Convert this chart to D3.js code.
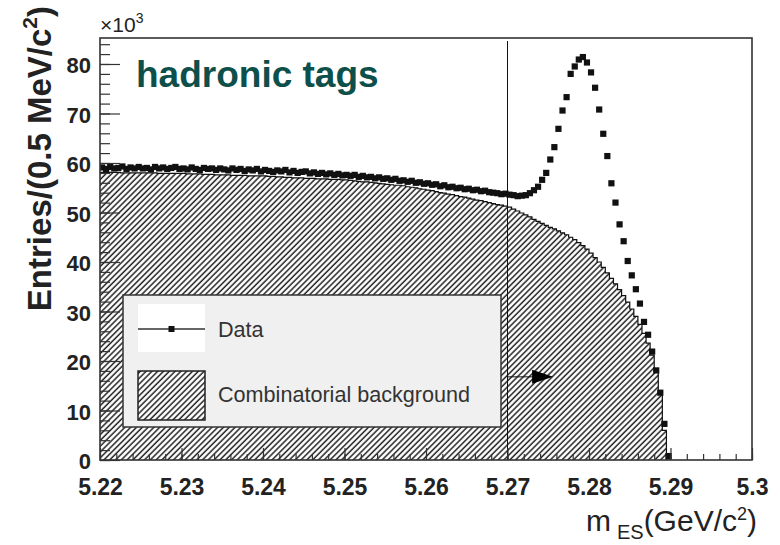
<!DOCTYPE html>
<html>
<head>
<meta charset="utf-8">
<script src="https://cdn.jsdelivr.net/npm/d3@7/dist/d3.min.js"></script>
<style>
  html, body { margin: 0; padding: 0; background: #ffffff; }
  svg { display: block; font-family: "Liberation Sans", Arial, Helvetica, sans-serif; }
</style>
</head>
<body>
<svg id="chart" width="780" height="545"></svg>
<script>
// Histogram binning of m_ES (GeV/c^2): 0.5 MeV bins starting at 5.22
const binStart = 5.22;
const binWidth = 0.0005;

// Data: entries per bin, in units of 10^3
const dataCounts = [
  59.1, 58.8, 59.2, 58.9, 59.0, 59.3, 58.8, 59.1, 58.9, 59.2,
  58.9, 59.0, 58.7, 59.2, 58.9, 59.1, 58.8, 59.0, 59.2, 58.8,
  58.9, 58.7, 59.1, 58.8, 58.6, 59.0, 58.8, 58.9, 58.6, 58.9,
  58.7, 58.5, 58.9, 58.6, 58.8, 58.4, 58.7, 58.5, 58.8, 58.3,
  58.6, 58.4, 58.2, 58.5, 58.3, 58.6, 58.1, 58.4, 58.0, 58.2,
  58.3, 57.9, 58.1, 57.8, 58.0, 57.7, 57.9, 57.6, 57.8, 57.5,
  57.6, 57.4, 57.6, 57.2, 57.4, 57.1, 57.2, 56.9, 57.1, 56.8,
  56.9, 56.6, 56.8, 56.4, 56.5, 56.2, 56.4, 56.0, 56.1, 55.8,
  55.9, 55.6, 55.7, 55.3, 55.5, 55.1, 55.2, 54.9, 55.0, 54.7,
  54.8, 54.5, 54.6, 54.3, 54.4, 54.1, 54.0, 53.9, 53.7, 53.8,
  53.6, 53.5, 53.3, 53.4, 53.5, 53.9, 54.5, 55.2, 56.6, 58.0,
  60.7, 63.2, 66.9, 70.6, 73.3, 78.0, 79.5, 80.9, 81.4, 80.3,
  78.3, 75.2, 70.8, 65.9, 61.4, 55.9, 52.0, 47.6, 44.2, 40.2,
  37.3, 34.5, 31.6, 27.9, 25.3, 21.9, 18.1, 13.6, 7.3, 0.8
];

// Combinatorial background: entries per bin, in units of 10^3
const bkgCounts = [
  58.1, 58.1, 58.1, 58.1, 58.1, 58.0, 58.0, 58.0, 58.0, 58.0,
  58.0, 58.0, 58.0, 58.0, 57.9, 57.9, 57.9, 57.9, 57.9, 57.9,
  57.9, 57.8, 57.8, 57.8, 57.8, 57.7, 57.7, 57.7, 57.6, 57.6,
  57.6, 57.6, 57.5, 57.5, 57.5, 57.5, 57.4, 57.4, 57.4, 57.4,
  57.4, 57.3, 57.3, 57.2, 57.2, 57.1, 57.1, 57.0, 57.0, 57.0,
  56.9, 56.9, 56.9, 56.8, 56.8, 56.8, 56.7, 56.7, 56.7, 56.6,
  56.6, 56.5, 56.4, 56.3, 56.2, 56.2, 56.1, 56.0, 55.9, 55.8,
  55.7, 55.6, 55.5, 55.5, 55.4, 55.2, 55.1, 55.0, 54.8, 54.7,
  54.5, 54.4, 54.2, 54.0, 53.9, 53.7, 53.6, 53.4, 53.2, 53.1,
  52.9, 52.7, 52.5, 52.4, 52.2, 52.0, 51.8, 51.6, 51.5, 51.3,
  51.1, 50.7, 50.3, 49.9, 49.5, 49.1, 48.6, 48.2, 47.8, 47.4,
  47.0, 46.7, 46.3, 45.9, 45.5, 45.0, 44.5, 43.9, 43.3, 42.6,
  41.8, 40.9, 40.0, 38.9, 37.8, 36.7, 35.6, 34.4, 33.2, 31.9,
  30.5, 29.0, 27.4, 25.6, 23.6, 21.2, 18.0, 13.6, 6.0, 0.0
];

// Axis ticks
const xTickValues = [5.22, 5.23, 5.24, 5.25, 5.26, 5.27, 5.28, 5.29, 5.30];
const xTickLabels = ["5.22", "5.23", "5.24", "5.25", "5.26", "5.27", "5.28", "5.29", "5.3"];
const yTickValues = [0, 10, 20, 30, 40, 50, 60, 70, 80];
const yTickLabels = ["0", "10", "20", "30", "40", "50", "60", "70", "80"];

// Signal-region cut and its arrow
const cutMass = 5.27;
const arrowLevel = 16.8;
const arrowTipMass = 5.2756;

// Legend entries
const legendLabels = ["Data", "Combinatorial background"];

// ---------------------------------------------------------------
const svg = d3.select("#chart");
const frame = { left: 100, right: 752, top: 38, bottom: 460 };
const ink = "#222";

const x = d3.scaleLinear().domain([5.22, 5.30]).range([frame.left, frame.right]);
const y = d3.scaleLinear().domain([0, 85.25]).range([frame.bottom, frame.top]);

const defs = svg.append("defs");
const hatchStep = 4.1;
const hatch = defs.append("pattern")
  .attr("id", "hatch")
  .attr("patternUnits", "userSpaceOnUse")
  .attr("width", hatchStep).attr("height", hatchStep)
  .attr("patternTransform", "rotate(45)");
hatch.append("rect").attr("width", hatchStep).attr("height", hatchStep).attr("fill", "#fff");
hatch.append("line")
  .attr("x1", 1).attr("y1", 0).attr("x2", 1).attr("y2", hatchStep)
  .attr("stroke", "#222").attr("stroke-width", 1.5);

defs.append("clipPath").attr("id", "plotClip")
  .append("rect")
  .attr("x", frame.left).attr("y", frame.top)
  .attr("width", frame.right - frame.left).attr("height", frame.bottom - frame.top);

// Background histogram as step shape
const edgeOf = i => binStart + i * binWidth;
const bkgSteps = bkgCounts.map((v, i) => [edgeOf(i), v]);
bkgSteps.push([edgeOf(bkgCounts.length), bkgCounts[bkgCounts.length - 1]]);

const plot = svg.append("g").attr("clip-path", "url(#plotClip)");

plot.append("path")
  .datum(bkgSteps)
  .attr("d", d3.area().curve(d3.curveStepAfter)
    .x(d => x(d[0])).y0(y(0)).y1(d => y(d[1])))
  .attr("fill", "url(#hatch)");

plot.append("path")
  .datum(bkgSteps)
  .attr("d", d3.line().curve(d3.curveStepAfter).x(d => x(d[0])).y(d => y(d[1])))
  .attr("fill", "none").attr("stroke", "#111").attr("stroke-width", 1.2);

// Legend box
const legend = svg.append("g");
legend.append("rect")
  .attr("x", 123).attr("y", 295).attr("width", 378).attr("height", 132)
  .attr("fill", "#f0f0f0").attr("stroke", "#333").attr("stroke-width", 1.5);
legend.append("rect")
  .attr("x", 138).attr("y", 304).attr("width", 67).attr("height", 48)
  .attr("fill", "#fff");
legend.append("line")
  .attr("x1", 138).attr("x2", 205).attr("y1", 329).attr("y2", 329)
  .attr("stroke", "#333").attr("stroke-width", 1.5);
legend.append("rect")
  .attr("x", 168.5).attr("y", 326).attr("width", 6).attr("height", 6)
  .attr("fill", "#111");
legend.append("rect")
  .attr("x", 138).attr("y", 371).attr("width", 67).attr("height", 49)
  .attr("fill", "url(#hatch)").attr("stroke", "#222").attr("stroke-width", 1.5);
legend.selectAll("text.entry")
  .data(legendLabels)
  .join("text")
  .attr("class", "entry")
  .attr("x", 218)
  .attr("y", (d, i) => i === 0 ? 337 : 402)
  .attr("font-size", 21.6)
  .attr("fill", "#333")
  .text(d => d);

// Cut line at m_ES = 5.27
svg.append("line")
  .attr("x1", x(cutMass)).attr("x2", x(cutMass))
  .attr("y1", frame.top + 3).attr("y2", frame.bottom)
  .attr("stroke", "#111").attr("stroke-width", 1);

// Arrow pointing to the signal region
const arrowY = y(arrowLevel);
const tipX = x(arrowTipMass);
svg.append("line")
  .attr("x1", x(cutMass)).attr("x2", tipX - 18)
  .attr("y1", arrowY).attr("y2", arrowY)
  .attr("stroke", "#111").attr("stroke-width", 1);
svg.append("path")
  .attr("d", `M${tipX},${arrowY} L${tipX - 21},${arrowY - 7} L${tipX - 21},${arrowY + 7} Z`)
  .attr("fill", "#000");

// Data markers
const dataPoints = dataCounts.map((v, i) => [binStart + (i + 0.5) * binWidth, v]);
const marker = 6.2;
plot.selectAll("rect.pt")
  .data(dataPoints)
  .join("rect")
  .attr("class", "pt")
  .attr("x", d => x(d[0]) - marker / 2)
  .attr("y", d => y(d[1]) - marker / 2)
  .attr("width", marker).attr("height", marker)
  .attr("fill", "#111");

// Axes: major and minor ticks drawn inward
const yMajor = d3.axisLeft(y)
  .tickValues(yTickValues)
  .tickFormat((d, i) => yTickLabels[i])
  .tickSizeInner(-20).tickSizeOuter(0).tickPadding(9);
const yMinor = d3.axisLeft(y)
  .tickValues(d3.range(0, 85, 2))
  .tickFormat("")
  .tickSizeInner(-10).tickSizeOuter(0);
const xMajor = d3.axisBottom(x)
  .tickValues(xTickValues)
  .tickFormat((d, i) => xTickLabels[i])
  .tickSizeInner(-12).tickSizeOuter(0).tickPadding(19);
const xMinor = d3.axisBottom(x)
  .tickValues(d3.range(5.22, 5.3001, 0.002))
  .tickFormat("")
  .tickSizeInner(-6).tickSizeOuter(0);

function styleAxis(g) {
  g.select(".domain").remove();
  g.selectAll("line").attr("stroke", "#333").attr("stroke-width", 1.2);
  g.selectAll("text")
    .attr("fill", ink)
    .attr("font-family", "Liberation Sans, Arial, sans-serif")
    .attr("font-weight", "bold");
}

svg.append("g").attr("transform", `translate(${frame.left},0)`).call(yMinor).call(styleAxis);
svg.append("g").attr("transform", `translate(${frame.left},0)`).call(yMajor).call(styleAxis)
  .selectAll("text").attr("font-size", 22).attr("dy", "0.4em");
svg.append("g").attr("transform", `translate(0,${frame.bottom})`).call(xMinor).call(styleAxis);
svg.append("g").attr("transform", `translate(0,${frame.bottom})`).call(xMajor).call(styleAxis)
  .selectAll("text").attr("font-size", 23);

// Frame
svg.append("rect")
  .attr("x", frame.left).attr("y", frame.top)
  .attr("width", frame.right - frame.left).attr("height", frame.bottom - frame.top)
  .attr("fill", "none").attr("stroke", "#333").attr("stroke-width", 1.6);

// Axis scale factor
const expo = svg.append("text").attr("x", 100).attr("y", 32)
  .attr("font-size", 21).attr("fill", ink);
expo.append("tspan").text("\u00d710");
expo.append("tspan").attr("font-size", 14).attr("dy", -9).text("3");

// Y title
const yTitle = svg.append("text")
  .attr("transform", "translate(51,6) rotate(-90)")
  .attr("text-anchor", "end")
  .attr("font-size", 33).attr("font-weight", "bold").attr("fill", ink);
yTitle.append("tspan").text("Entries/(0.5 MeV/c");
yTitle.append("tspan").attr("font-size", 21).attr("dy", -14).text("2");
yTitle.append("tspan").attr("dy", 14).text(")");

// X title
const xTitle = svg.append("text")
  .attr("x", 757).attr("y", 531)
  .attr("text-anchor", "end")
  .attr("font-size", 30).attr("fill", ink);
xTitle.append("tspan").text("m");
xTitle.append("tspan").attr("font-size", 20).attr("dx", 6).attr("dy", 8).text("ES");
xTitle.append("tspan").attr("dy", -8).text("(GeV/c");
xTitle.append("tspan").attr("font-size", 18).attr("dy", -11).text("2");
xTitle.append("tspan").attr("dy", 11).text(")");

// Channel label
svg.append("text")
  .attr("x", 136).attr("y", 87)
  .attr("font-size", 37).attr("font-weight", "bold")
  .attr("fill", "#0d4f4a")
  .text("hadronic tags");
</script>
</body>
</html>
